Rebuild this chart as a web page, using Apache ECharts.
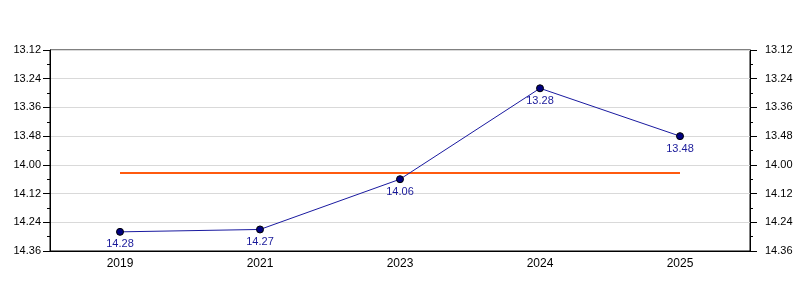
<!DOCTYPE html>
<html><head><meta charset="utf-8">
<script src="https://cdn.jsdelivr.net/npm/echarts@6/dist/echarts.min.js"></script>
<style>html,body{margin:0;padding:0;background:#fff}#c{width:800px;height:300px}</style>
</head><body><div id="c"></div>
<script>
// Years
var categories = ['2019', '2021', '2023', '2024', '2025'];
// Times in seconds (label shown as minutes.seconds)
var timeSeconds = [868, 867, 846, 808, 828];
// Average line (seconds), 14.03.4
var averageSeconds = [843.4, 843.4, 843.4, 843.4, 843.4];
// Axis range in seconds (13.12 .. 14.36, step 0.12)
var axisMin = 792, axisMax = 876, axisStep = 12;

function fmt(v) {
  v = Math.round(v);
  var m = Math.floor(v / 60), s = v % 60;
  return m + '.' + (s < 10 ? '0' : '') + s;
}
var font = 'Liberation Sans, Arial, sans-serif';
function yAxis(pos, showSplit, margin) {
  return {
    type: 'value', position: pos, inverse: true,
    min: axisMin, max: axisMax, interval: axisStep,
    axisLine: {show: true, lineStyle: {color: '#000', width: 1}},
    axisTick: {show: true, length: 7, lineStyle: {color: '#000'}},
    minorTick: {show: true, splitNumber: 2, length: 3, lineStyle: {color: '#000'}},
    splitLine: {show: showSplit, lineStyle: {color: '#d9d9d9', width: 1}},
    axisLabel: {color: '#000', fontFamily: font, fontSize: 11, margin: margin, formatter: fmt}
  };
}
var chart = echarts.init(document.getElementById('c'), null, {renderer: 'canvas'});
chart.setOption({
  animation: false,
  backgroundColor: '#fff',
  grid: {left: 50, right: 50, top: 50, bottom: 49, show: true, borderColor: '#000', borderWidth: 1},
  xAxis: {
    type: 'category', data: categories, boundaryGap: true,
    axisLine: {lineStyle: {color: '#000'}},
    axisTick: {alignWithLabel: true, length: 5, lineStyle: {color: '#000'}},
    axisLabel: {color: '#000', fontFamily: font, fontSize: 12, margin: 7}
  },
  yAxis: [yAxis('left', true, 9), yAxis('right', false, 15)],
  series: [
    {
      type: 'line', data: averageSeconds, yAxisIndex: 0, symbol: 'none',
      lineStyle: {color: '#ff5a0f', width: 2}, z: 2
    },
    {
      type: 'line', data: timeSeconds, yAxisIndex: 0,
      symbol: 'circle', symbolSize: 7,
      lineStyle: {color: '#1a1aa0', width: 1},
      itemStyle: {color: '#000080', borderColor: '#000', borderWidth: 1},
      label: {show: true, position: 'bottom', distance: 3, color: '#1a1a9a', fontFamily: font, fontSize: 11, formatter: function(p){return fmt(p.value);}},
      z: 3
    }
  ]
});
</script></body></html>
